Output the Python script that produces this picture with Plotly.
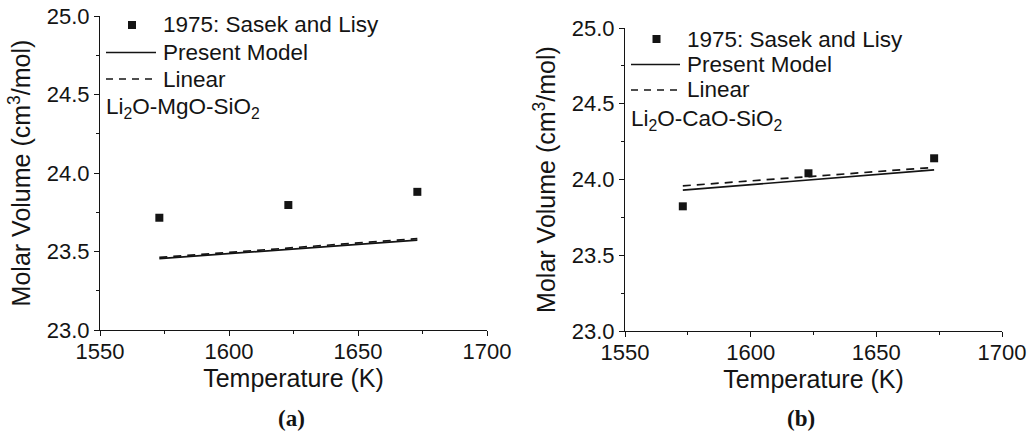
import plotly.graph_objects as go

# Measured molar volumes (Sasek and Lisy, 1975) and model curves
temps_exp = [1573, 1623, 1673]
temps_model = [1573, 1673]

mg_exp = [23.715, 23.796, 23.88]
mg_present = [23.455, 23.572]
mg_linear = [23.462, 23.582]

ca_exp = [23.823, 24.041, 24.14]
ca_present = [23.93, 24.063]
ca_linear = [23.958, 24.08]

x_ticks = [1550, 1600, 1650, 1700]
y_ticks = [23.0, 23.5, 24.0, 24.5, 25.0]

legend_names = ["1975: Sasek and Lisy", "Present Model", "Linear"]

FONT = "Liberation Sans, Arial, sans-serif"
SERIF = "Liberation Serif, Times New Roman, serif"
INK = "#141414"
DASH = "8px,6px"
W, H = 1027, 438


def px(x):
    return x / W


def py(y):
    return 1 - y / H


fig = go.Figure()


def add_panel(xa, ya, exp, present, linear):
    fig.add_trace(go.Scatter(
        x=temps_exp, y=exp, mode="markers", name=legend_names[0],
        marker=dict(symbol="square", size=8, color=INK), xaxis=xa, yaxis=ya))
    fig.add_trace(go.Scatter(
        x=temps_model, y=present, mode="lines", name=legend_names[1],
        line=dict(color=INK, width=1.7), xaxis=xa, yaxis=ya))
    fig.add_trace(go.Scatter(
        x=temps_model, y=linear, mode="lines", name=legend_names[2],
        line=dict(color=INK, width=1.7, dash=DASH), xaxis=xa, yaxis=ya))


add_panel("x", "y", mg_exp, mg_present, mg_linear)
add_panel("x2", "y2", ca_exp, ca_present, ca_linear)


def xaxis_style(x0, x1, anchor):
    return dict(
        domain=[px(x0), px(x1)], range=[1550, 1700], tickvals=x_ticks, anchor=anchor,
        automargin=False, ticklabelstandoff=-4,
        showline=True, linecolor=INK, linewidth=1.2, ticks="outside",
        ticklen=5, tickwidth=1.2, tickcolor=INK, showgrid=False, zeroline=False,
        minor=dict(ticks="outside", ticklen=3, tickcolor=INK, dtick=25, tick0=1550, tickwidth=1),
        tickfont=dict(family=FONT, size=22, color=INK),
        title=dict(text="Temperature (K)", font=dict(family=FONT, size=25, color=INK), standoff=6),
    )


def yaxis_style(top, bottom, anchor):
    return dict(
        domain=[py(bottom), py(top)], range=[23.0, 25.0], tickvals=y_ticks, anchor=anchor,
        tickformat=".1f", automargin=False,
        showline=True, linecolor=INK, linewidth=1.2, ticks="outside",
        ticklen=5, tickwidth=1.2, tickcolor=INK, showgrid=False, zeroline=False,
        minor=dict(ticks="outside", ticklen=3, tickcolor=INK, dtick=0.25, tick0=23.0, tickwidth=1),
        tickfont=dict(family=FONT, size=22, color=INK),
        title=dict(text="Molar Volume (cm<sup>3</sup>/mol)",
                   font=dict(family=FONT, size=25, color=INK), standoff=8),
    )


fig.update_layout(
    width=W, height=H, margin=dict(l=0, r=0, t=0, b=0),
    paper_bgcolor="white", plot_bgcolor="white", showlegend=False,
    xaxis=xaxis_style(100, 487, "y"),
    yaxis=yaxis_style(16, 330, "x"),
    xaxis2=xaxis_style(625, 1002, "y2"),
    yaxis2=yaxis_style(28, 331, "x2"),
)


def draw_key(line_x0, line_x1, text_x, rows, system_label, label_y):
    """Legend block inside a panel: marker, solid and dashed keys with their labels."""
    mx = (line_x0 + line_x1) / 2 + 1
    fig.add_shape(type="rect", xref="paper", yref="paper",
                  x0=px(mx - 4), x1=px(mx + 4), y0=py(rows[0] + 4), y1=py(rows[0] - 4),
                  fillcolor=INK, line=dict(width=0))
    fig.add_shape(type="line", xref="paper", yref="paper",
                  x0=px(line_x0), x1=px(line_x1), y0=py(rows[1]), y1=py(rows[1]),
                  line=dict(color=INK, width=1.7))
    fig.add_shape(type="line", xref="paper", yref="paper",
                  x0=px(line_x0), x1=px(line_x1), y0=py(rows[2]), y1=py(rows[2]),
                  line=dict(color=INK, width=1.7, dash="7px,6px"))
    for name, ry in zip(legend_names, rows):
        fig.add_annotation(text=name, xref="paper", yref="paper", x=px(text_x), y=py(ry),
                           xanchor="left", yanchor="middle", showarrow=False,
                           font=dict(family=FONT, size=22.5, color=INK))
    fig.add_annotation(text=system_label, xref="paper", yref="paper",
                       x=px(line_x0 - 2), y=py(label_y), xanchor="left", yanchor="middle",
                       showarrow=False, font=dict(family=FONT, size=22.5, color=INK))


draw_key(106, 156, 161, [25, 52.5, 79], "Li<sub>2</sub>O-MgO-SiO<sub>2</sub>", 108)
draw_key(631, 680, 685, [39, 64.5, 90], "Li<sub>2</sub>O-CaO-SiO<sub>2</sub>", 120)

# Panel captions
fig.add_annotation(text="<b>(a)</b>", xref="paper", yref="paper", x=px(291), y=py(418),
                   xanchor="center", yanchor="middle", showarrow=False,
                   font=dict(family=SERIF, size=23, color=INK))
fig.add_annotation(text="<b>(b)</b>", xref="paper", yref="paper", x=px(801), y=py(418),
                   xanchor="center", yanchor="middle", showarrow=False,
                   font=dict(family=SERIF, size=23, color=INK))

fig.write_html("out.html")
